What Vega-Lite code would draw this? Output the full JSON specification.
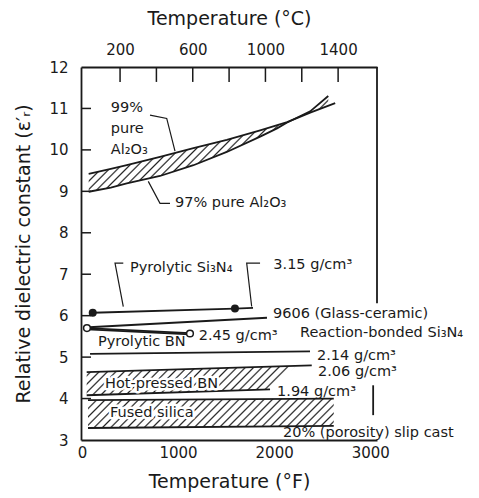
{
  "$schema": "https://vega.github.io/schema/vega-lite/v6.json",
  "width": 296,
  "height": 373,
  "autosize": {"type": "none"},
  "padding": {"left": 81, "top": 67, "right": 102, "bottom": 58},
  "background": "white",
  "config": {
    "view": {"stroke": null},
    "axis": {
      "domainColor": "#1a1a1a", "domainWidth": 1.8,
      "labelFont": "DejaVu Sans", "labelFontSize": 15, "labelColor": "#1a1a1a",
      "titleFont": "DejaVu Sans", "titleFontSize": 19, "titleFontWeight": "normal", "titleColor": "#1a1a1a",
      "grid": false, "labelFlush": false, "labelOverlap": false
    },
    "text": {"font": "DejaVu Sans", "fontSize": 14.5, "color": "#1a1a1a"}
  },
  "datasets": {
    "series": [
      {"s": "a99", "f": 70, "e": 9.42}, {"s": "a99", "f": 300, "e": 9.54}, {"s": "a99", "f": 466, "e": 9.63},
      {"s": "a99", "f": 812, "e": 9.83}, {"s": "a99", "f": 1160, "e": 10.04}, {"s": "a99", "f": 1507, "e": 10.24},
      {"s": "a99", "f": 1854, "e": 10.47}, {"s": "a99", "f": 2135, "e": 10.67}, {"s": "a99", "f": 2375, "e": 10.9},
      {"s": "a99", "f": 2635, "e": 11.13},
      {"s": "a97", "f": 70, "e": 8.99}, {"s": "a97", "f": 300, "e": 9.09}, {"s": "a97", "f": 466, "e": 9.19},
      {"s": "a97", "f": 812, "e": 9.37}, {"s": "a97", "f": 1160, "e": 9.63}, {"s": "a97", "f": 1507, "e": 9.95},
      {"s": "a97", "f": 1854, "e": 10.32}, {"s": "a97", "f": 2030, "e": 10.52}, {"s": "a97", "f": 2135, "e": 10.66},
      {"s": "a97", "f": 2375, "e": 10.93}, {"s": "a97", "f": 2563, "e": 11.3},
      {"s": "si3n4", "f": 112, "e": 6.07}, {"s": "si3n4", "f": 1592, "e": 6.17}, {"s": "si3n4", "f": 1780, "e": 6.19},
      {"s": "g9606", "f": 73, "e": 5.72}, {"s": "g9606", "f": 1925, "e": 5.95},
      {"s": "bnA", "f": 52, "e": 5.7}, {"s": "bnA", "f": 1124, "e": 5.58},
      {"s": "bnB", "f": 52, "e": 5.67}, {"s": "bnB", "f": 1124, "e": 5.55},
      {"s": "rb214", "f": 84, "e": 5.08}, {"s": "rb214", "f": 2373, "e": 5.14},
      {"s": "hp206", "f": 49, "e": 4.64}, {"s": "hp206", "f": 2391, "e": 4.8},
      {"s": "hp194", "f": 49, "e": 4.08}, {"s": "hp194", "f": 1957, "e": 4.22},
      {"s": "fsTop", "f": 63, "e": 3.96}, {"s": "fsTop", "f": 2620, "e": 4.0},
      {"s": "fsBot", "f": 63, "e": 3.29}, {"s": "fsBot", "f": 2620, "e": 3.34}
    ],
    "alBand": [
      {"f": 70, "e": 9.42, "e2": 8.99}, {"f": 300, "e": 9.54, "e2": 9.09}, {"f": 466, "e": 9.63, "e2": 9.19},
      {"f": 812, "e": 9.83, "e2": 9.37}, {"f": 1160, "e": 10.04, "e2": 9.63}, {"f": 1507, "e": 10.24, "e2": 9.95},
      {"f": 1854, "e": 10.47, "e2": 10.32}, {"f": 2030, "e": 10.58, "e2": 10.52}, {"f": 2135, "e": 10.67, "e2": 10.66},
      {"f": 2375, "e": 10.9, "e2": 10.93}, {"f": 2563, "e": 11.07, "e2": 11.3}
    ],
    "hpBand": [
      {"f": 49, "e": 4.64, "e2": 4.08}, {"f": 1957, "e": 4.77, "e2": 4.22}, {"f": 2220, "e": 4.79, "e2": 4.78}
    ],
    "fsBand": [
      {"f": 63, "e": 3.96, "e2": 3.29}, {"f": 2620, "e": 4.0, "e2": 3.34}
    ],
    "filledDots": [{"f": 112, "e": 6.07}, {"f": 1592, "e": 6.17}],
    "openDots": [{"f": 52, "e": 5.7}, {"f": 1124, "e": 5.57}],
    "leaders": [
      {"g": "L99", "i": 0, "f": 708, "e": 10.84}, {"g": "L99", "i": 1, "f": 882, "e": 10.76}, {"g": "L99", "i": 2, "f": 968, "e": 9.97},
      {"g": "L97", "i": 0, "f": 916, "e": 8.71}, {"g": "L97", "i": 1, "f": 812, "e": 8.71}, {"g": "L97", "i": 2, "f": 690, "e": 9.24},
      {"g": "Lsi", "i": 0, "f": 430, "e": 7.27}, {"g": "Lsi", "i": 1, "f": 344, "e": 7.27}, {"g": "Lsi", "i": 2, "f": 430, "e": 6.22},
      {"g": "L315", "i": 0, "f": 1853, "e": 7.27}, {"g": "L315", "i": 1, "f": 1714, "e": 7.27}, {"g": "L315", "i": 2, "f": 1766, "e": 6.22}
    ],
    "frameRight": [{"f": 3070, "e": 12, "e2": 6.3}, {"f": 3030, "e": 4.32, "e2": 3.6}],
    "yTicks": [
      {"e": 4, "f": -10, "f2": 94}, {"e": 5, "f": -10, "f2": 94}, {"e": 6, "f": -10, "f2": 94}, {"e": 7, "f": -10, "f2": 94},
      {"e": 8, "f": -10, "f2": 94}, {"e": 9, "f": -10, "f2": 94}, {"e": 10, "f": -10, "f2": 94}, {"e": 11, "f": -10, "f2": 94}
    ],
    "fTicks": [{"f": 500}, {"f": 1000}, {"f": 1500}, {"f": 2000}, {"f": 2500}],
    "cTicks": [{"c": 200}, {"c": 400}, {"c": 600}, {"c": 800}, {"c": 1000}, {"c": 1200}, {"c": 1400}],
    "labels": [
      {"t": "99%", "f": 300, "e": 11.0}, {"t": "pure", "f": 300, "e": 10.5}, {"t": "Al₂O₃", "f": 300, "e": 10.0},
      {"t": "97% pure Al₂O₃", "f": 968, "e": 8.71},
      {"t": "Pyrolytic Si₃N₄", "f": 500, "e": 7.14},
      {"t": "3.15 g/cm³", "f": 1991, "e": 7.22},
      {"t": "9606 (Glass-ceramic)", "f": 1988, "e": 6.03},
      {"t": "2.45 g/cm³", "f": 1215, "e": 5.52},
      {"t": "Reaction-bonded Si₃N₄", "f": 2269, "e": 5.57},
      {"t": "Pyrolytic BN", "f": 167, "e": 5.36},
      {"t": "2.14 g/cm³", "f": 2446, "e": 5.03},
      {"t": "2.06 g/cm³", "f": 2456, "e": 4.64},
      {"t": "Hot-pressed BN", "f": 240, "e": 4.34},
      {"t": "1.94 g/cm³", "f": 2030, "e": 4.17},
      {"t": "Fused silica", "f": 292, "e": 3.64},
      {"t": "20% (porosity) slip cast", "f": 2092, "e": 3.18}
    ]
  },
  "layer": [
    {
      "encoding": {
        "x": {
          "field": "f", "type": "quantitative",
          "scale": {"domain": [-10, 3070], "nice": false, "zero": false},
          "axis": {
            "orient": "bottom", "values": [0, 1000, 2000, 3000], "format": "d",
            "ticks": false, "labelPadding": 5,
            "title": "Temperature (°F)", "titlePadding": 12
          }
        },
        "y": {
          "field": "e", "type": "quantitative",
          "scale": {"domain": [3, 12], "nice": false, "zero": false},
          "axis": {
            "orient": "left", "values": [3, 4, 5, 6, 7, 8, 9, 10, 11, 12], "format": "d",
            "ticks": false, "labelPadding": 13,
            "title": "Relative dielectric constant (ε′ᵣ)", "titlePadding": 15
          }
        }
      },
      "layer": [
        {
          "data": {"name": "alBand"},
          "mark": {"type": "area", "color": {
            "gradient": "linear", "x1": 0, "y1": 0, "x2": 1.202, "y2": 0.48,
            "stops": [
              {"offset": 0, "color": "#fff"}, {"offset": 0.005, "color": "#222"}, {"offset": 0.01, "color": "#fff"},
              {"offset": 0.025, "color": "#fff"}, {"offset": 0.03, "color": "#222"}, {"offset": 0.035, "color": "#fff"},
              {"offset": 0.05, "color": "#fff"}, {"offset": 0.055, "color": "#222"}, {"offset": 0.06, "color": "#fff"},
              {"offset": 0.075, "color": "#fff"}, {"offset": 0.08, "color": "#222"}, {"offset": 0.085, "color": "#fff"},
              {"offset": 0.1, "color": "#fff"}, {"offset": 0.105, "color": "#222"}, {"offset": 0.11, "color": "#fff"},
              {"offset": 0.125, "color": "#fff"}, {"offset": 0.13, "color": "#222"}, {"offset": 0.135, "color": "#fff"},
              {"offset": 0.15, "color": "#fff"}, {"offset": 0.155, "color": "#222"}, {"offset": 0.16, "color": "#fff"},
              {"offset": 0.175, "color": "#fff"}, {"offset": 0.18, "color": "#222"}, {"offset": 0.185, "color": "#fff"},
              {"offset": 0.2, "color": "#fff"}, {"offset": 0.205, "color": "#222"}, {"offset": 0.21, "color": "#fff"},
              {"offset": 0.225, "color": "#fff"}, {"offset": 0.23, "color": "#222"}, {"offset": 0.235, "color": "#fff"},
              {"offset": 0.25, "color": "#fff"}, {"offset": 0.255, "color": "#222"}, {"offset": 0.26, "color": "#fff"},
              {"offset": 0.275, "color": "#fff"}, {"offset": 0.28, "color": "#222"}, {"offset": 0.285, "color": "#fff"},
              {"offset": 0.3, "color": "#fff"}, {"offset": 0.305, "color": "#222"}, {"offset": 0.31, "color": "#fff"},
              {"offset": 0.325, "color": "#fff"}, {"offset": 0.33, "color": "#222"}, {"offset": 0.335, "color": "#fff"},
              {"offset": 0.35, "color": "#fff"}, {"offset": 0.355, "color": "#222"}, {"offset": 0.36, "color": "#fff"},
              {"offset": 0.375, "color": "#fff"}, {"offset": 0.38, "color": "#222"}, {"offset": 0.385, "color": "#fff"},
              {"offset": 0.4, "color": "#fff"}, {"offset": 0.405, "color": "#222"}, {"offset": 0.41, "color": "#fff"},
              {"offset": 0.425, "color": "#fff"}, {"offset": 0.43, "color": "#222"}, {"offset": 0.435, "color": "#fff"},
              {"offset": 0.45, "color": "#fff"}, {"offset": 0.455, "color": "#222"}, {"offset": 0.46, "color": "#fff"},
              {"offset": 0.475, "color": "#fff"}, {"offset": 0.48, "color": "#222"}, {"offset": 0.485, "color": "#fff"},
              {"offset": 0.5, "color": "#fff"}, {"offset": 0.505, "color": "#222"}, {"offset": 0.51, "color": "#fff"},
              {"offset": 0.525, "color": "#fff"}, {"offset": 0.53, "color": "#222"}, {"offset": 0.535, "color": "#fff"},
              {"offset": 0.55, "color": "#fff"}, {"offset": 0.555, "color": "#222"}, {"offset": 0.56, "color": "#fff"},
              {"offset": 0.575, "color": "#fff"}, {"offset": 0.58, "color": "#222"}, {"offset": 0.585, "color": "#fff"},
              {"offset": 0.6, "color": "#fff"}, {"offset": 0.605, "color": "#222"}, {"offset": 0.61, "color": "#fff"},
              {"offset": 0.625, "color": "#fff"}, {"offset": 0.63, "color": "#222"}, {"offset": 0.635, "color": "#fff"},
              {"offset": 0.65, "color": "#fff"}, {"offset": 0.655, "color": "#222"}, {"offset": 0.66, "color": "#fff"},
              {"offset": 0.675, "color": "#fff"}, {"offset": 0.68, "color": "#222"}, {"offset": 0.685, "color": "#fff"},
              {"offset": 0.7, "color": "#fff"}, {"offset": 0.705, "color": "#222"}, {"offset": 0.71, "color": "#fff"},
              {"offset": 0.725, "color": "#fff"}, {"offset": 0.73, "color": "#222"}, {"offset": 0.735, "color": "#fff"},
              {"offset": 0.75, "color": "#fff"}, {"offset": 0.755, "color": "#222"}, {"offset": 0.76, "color": "#fff"},
              {"offset": 0.775, "color": "#fff"}, {"offset": 0.78, "color": "#222"}, {"offset": 0.785, "color": "#fff"},
              {"offset": 0.8, "color": "#fff"}, {"offset": 0.805, "color": "#222"}, {"offset": 0.81, "color": "#fff"},
              {"offset": 0.825, "color": "#fff"}, {"offset": 0.83, "color": "#222"}, {"offset": 0.835, "color": "#fff"},
              {"offset": 0.85, "color": "#fff"}, {"offset": 0.855, "color": "#222"}, {"offset": 0.86, "color": "#fff"},
              {"offset": 0.875, "color": "#fff"}, {"offset": 0.88, "color": "#222"}, {"offset": 0.885, "color": "#fff"},
              {"offset": 0.9, "color": "#fff"}, {"offset": 0.905, "color": "#222"}, {"offset": 0.91, "color": "#fff"},
              {"offset": 0.925, "color": "#fff"}, {"offset": 0.93, "color": "#222"}, {"offset": 0.935, "color": "#fff"},
              {"offset": 0.95, "color": "#fff"}, {"offset": 0.955, "color": "#222"}, {"offset": 0.96, "color": "#fff"},
              {"offset": 0.975, "color": "#fff"}, {"offset": 0.98, "color": "#222"}, {"offset": 0.985, "color": "#fff"},
              {"offset": 1, "color": "#fff"}
            ]
          }},
          "encoding": {"y2": {"field": "e2"}}
        },
        {
          "data": {"name": "hpBand"},
          "mark": {"type": "area", "color": {
            "gradient": "linear", "x1": 0, "y1": 0, "x2": 1.569, "y2": 0.221,
            "stops": [
              {"offset": 0, "color": "#fff"}, {"offset": 0.005, "color": "#222"}, {"offset": 0.01, "color": "#fff"},
              {"offset": 0.025, "color": "#fff"}, {"offset": 0.03, "color": "#222"}, {"offset": 0.035, "color": "#fff"},
              {"offset": 0.05, "color": "#fff"}, {"offset": 0.055, "color": "#222"}, {"offset": 0.06, "color": "#fff"},
              {"offset": 0.075, "color": "#fff"}, {"offset": 0.08, "color": "#222"}, {"offset": 0.085, "color": "#fff"},
              {"offset": 0.1, "color": "#fff"}, {"offset": 0.105, "color": "#222"}, {"offset": 0.11, "color": "#fff"},
              {"offset": 0.125, "color": "#fff"}, {"offset": 0.13, "color": "#222"}, {"offset": 0.135, "color": "#fff"},
              {"offset": 0.15, "color": "#fff"}, {"offset": 0.155, "color": "#222"}, {"offset": 0.16, "color": "#fff"},
              {"offset": 0.175, "color": "#fff"}, {"offset": 0.18, "color": "#222"}, {"offset": 0.185, "color": "#fff"},
              {"offset": 0.2, "color": "#fff"}, {"offset": 0.205, "color": "#222"}, {"offset": 0.21, "color": "#fff"},
              {"offset": 0.225, "color": "#fff"}, {"offset": 0.23, "color": "#222"}, {"offset": 0.235, "color": "#fff"},
              {"offset": 0.25, "color": "#fff"}, {"offset": 0.255, "color": "#222"}, {"offset": 0.26, "color": "#fff"},
              {"offset": 0.275, "color": "#fff"}, {"offset": 0.28, "color": "#222"}, {"offset": 0.285, "color": "#fff"},
              {"offset": 0.3, "color": "#fff"}, {"offset": 0.305, "color": "#222"}, {"offset": 0.31, "color": "#fff"},
              {"offset": 0.325, "color": "#fff"}, {"offset": 0.33, "color": "#222"}, {"offset": 0.335, "color": "#fff"},
              {"offset": 0.35, "color": "#fff"}, {"offset": 0.355, "color": "#222"}, {"offset": 0.36, "color": "#fff"},
              {"offset": 0.375, "color": "#fff"}, {"offset": 0.38, "color": "#222"}, {"offset": 0.385, "color": "#fff"},
              {"offset": 0.4, "color": "#fff"}, {"offset": 0.405, "color": "#222"}, {"offset": 0.41, "color": "#fff"},
              {"offset": 0.425, "color": "#fff"}, {"offset": 0.43, "color": "#222"}, {"offset": 0.435, "color": "#fff"},
              {"offset": 0.45, "color": "#fff"}, {"offset": 0.455, "color": "#222"}, {"offset": 0.46, "color": "#fff"},
              {"offset": 0.475, "color": "#fff"}, {"offset": 0.48, "color": "#222"}, {"offset": 0.485, "color": "#fff"},
              {"offset": 0.5, "color": "#fff"}, {"offset": 0.505, "color": "#222"}, {"offset": 0.51, "color": "#fff"},
              {"offset": 0.525, "color": "#fff"}, {"offset": 0.53, "color": "#222"}, {"offset": 0.535, "color": "#fff"},
              {"offset": 0.55, "color": "#fff"}, {"offset": 0.555, "color": "#222"}, {"offset": 0.56, "color": "#fff"},
              {"offset": 0.575, "color": "#fff"}, {"offset": 0.58, "color": "#222"}, {"offset": 0.585, "color": "#fff"},
              {"offset": 0.6, "color": "#fff"}, {"offset": 0.605, "color": "#222"}, {"offset": 0.61, "color": "#fff"},
              {"offset": 0.625, "color": "#fff"}, {"offset": 0.63, "color": "#222"}, {"offset": 0.635, "color": "#fff"},
              {"offset": 0.65, "color": "#fff"}, {"offset": 0.655, "color": "#222"}, {"offset": 0.66, "color": "#fff"},
              {"offset": 0.675, "color": "#fff"}, {"offset": 0.68, "color": "#222"}, {"offset": 0.685, "color": "#fff"},
              {"offset": 0.7, "color": "#fff"}, {"offset": 0.705, "color": "#222"}, {"offset": 0.71, "color": "#fff"},
              {"offset": 1, "color": "#fff"}
            ]
          }},
          "encoding": {"y2": {"field": "e2"}}
        },
        {
          "data": {"name": "fsBand"},
          "mark": {"type": "area", "color": {
            "gradient": "linear", "x1": 0, "y1": 0, "x2": 1.339, "y2": 0.16,
            "stops": [
              {"offset": 0, "color": "#fff"}, {"offset": 0.005, "color": "#222"}, {"offset": 0.01, "color": "#fff"},
              {"offset": 0.025, "color": "#fff"}, {"offset": 0.03, "color": "#222"}, {"offset": 0.035, "color": "#fff"},
              {"offset": 0.05, "color": "#fff"}, {"offset": 0.055, "color": "#222"}, {"offset": 0.06, "color": "#fff"},
              {"offset": 0.075, "color": "#fff"}, {"offset": 0.08, "color": "#222"}, {"offset": 0.085, "color": "#fff"},
              {"offset": 0.1, "color": "#fff"}, {"offset": 0.105, "color": "#222"}, {"offset": 0.11, "color": "#fff"},
              {"offset": 0.125, "color": "#fff"}, {"offset": 0.13, "color": "#222"}, {"offset": 0.135, "color": "#fff"},
              {"offset": 0.15, "color": "#fff"}, {"offset": 0.155, "color": "#222"}, {"offset": 0.16, "color": "#fff"},
              {"offset": 0.175, "color": "#fff"}, {"offset": 0.18, "color": "#222"}, {"offset": 0.185, "color": "#fff"},
              {"offset": 0.2, "color": "#fff"}, {"offset": 0.205, "color": "#222"}, {"offset": 0.21, "color": "#fff"},
              {"offset": 0.225, "color": "#fff"}, {"offset": 0.23, "color": "#222"}, {"offset": 0.235, "color": "#fff"},
              {"offset": 0.25, "color": "#fff"}, {"offset": 0.255, "color": "#222"}, {"offset": 0.26, "color": "#fff"},
              {"offset": 0.275, "color": "#fff"}, {"offset": 0.28, "color": "#222"}, {"offset": 0.285, "color": "#fff"},
              {"offset": 0.3, "color": "#fff"}, {"offset": 0.305, "color": "#222"}, {"offset": 0.31, "color": "#fff"},
              {"offset": 0.325, "color": "#fff"}, {"offset": 0.33, "color": "#222"}, {"offset": 0.335, "color": "#fff"},
              {"offset": 0.35, "color": "#fff"}, {"offset": 0.355, "color": "#222"}, {"offset": 0.36, "color": "#fff"},
              {"offset": 0.375, "color": "#fff"}, {"offset": 0.38, "color": "#222"}, {"offset": 0.385, "color": "#fff"},
              {"offset": 0.4, "color": "#fff"}, {"offset": 0.405, "color": "#222"}, {"offset": 0.41, "color": "#fff"},
              {"offset": 0.425, "color": "#fff"}, {"offset": 0.43, "color": "#222"}, {"offset": 0.435, "color": "#fff"},
              {"offset": 0.45, "color": "#fff"}, {"offset": 0.455, "color": "#222"}, {"offset": 0.46, "color": "#fff"},
              {"offset": 0.475, "color": "#fff"}, {"offset": 0.48, "color": "#222"}, {"offset": 0.485, "color": "#fff"},
              {"offset": 0.5, "color": "#fff"}, {"offset": 0.505, "color": "#222"}, {"offset": 0.51, "color": "#fff"},
              {"offset": 0.525, "color": "#fff"}, {"offset": 0.53, "color": "#222"}, {"offset": 0.535, "color": "#fff"},
              {"offset": 0.55, "color": "#fff"}, {"offset": 0.555, "color": "#222"}, {"offset": 0.56, "color": "#fff"},
              {"offset": 0.575, "color": "#fff"}, {"offset": 0.58, "color": "#222"}, {"offset": 0.585, "color": "#fff"},
              {"offset": 0.6, "color": "#fff"}, {"offset": 0.605, "color": "#222"}, {"offset": 0.61, "color": "#fff"},
              {"offset": 0.625, "color": "#fff"}, {"offset": 0.63, "color": "#222"}, {"offset": 0.635, "color": "#fff"},
              {"offset": 0.65, "color": "#fff"}, {"offset": 0.655, "color": "#222"}, {"offset": 0.66, "color": "#fff"},
              {"offset": 0.675, "color": "#fff"}, {"offset": 0.68, "color": "#222"}, {"offset": 0.685, "color": "#fff"},
              {"offset": 0.7, "color": "#fff"}, {"offset": 0.705, "color": "#222"}, {"offset": 0.71, "color": "#fff"},
              {"offset": 0.725, "color": "#fff"}, {"offset": 0.73, "color": "#222"}, {"offset": 0.735, "color": "#fff"},
              {"offset": 0.75, "color": "#fff"}, {"offset": 0.755, "color": "#222"}, {"offset": 0.76, "color": "#fff"},
              {"offset": 0.775, "color": "#fff"}, {"offset": 0.78, "color": "#222"}, {"offset": 0.785, "color": "#fff"},
              {"offset": 0.8, "color": "#fff"}, {"offset": 0.805, "color": "#222"}, {"offset": 0.81, "color": "#fff"},
              {"offset": 0.825, "color": "#fff"}, {"offset": 0.83, "color": "#222"}, {"offset": 0.835, "color": "#fff"},
              {"offset": 1, "color": "#fff"}
            ]
          }},
          "encoding": {"y2": {"field": "e2"}}
        },
        {
          "data": {"name": "yTicks"},
          "mark": {"type": "rule", "color": "#1a1a1a", "strokeWidth": 1.5},
          "encoding": {"x2": {"field": "f2"}}
        },
        {
          "data": {"name": "fTicks"},
          "mark": {"type": "rule", "color": "#1a1a1a", "strokeWidth": 1.5},
          "encoding": {"y": {"datum": 3}, "y2": {"datum": 3.22}}
        },
        {
          "data": {"name": "series"},
          "mark": {"type": "line", "color": "#1a1a1a", "strokeWidth": 1.8},
          "encoding": {"detail": {"field": "s"}}
        },
        {
          "data": {"name": "leaders"},
          "mark": {"type": "line", "color": "#1a1a1a", "strokeWidth": 1.2},
          "encoding": {"detail": {"field": "g"}, "order": {"field": "i"}}
        },
        {
          "data": {"name": "frameRight"},
          "mark": {"type": "rule", "color": "#1a1a1a", "strokeWidth": 1.8},
          "encoding": {"y2": {"field": "e2"}}
        },
        {
          "data": {"name": "filledDots"},
          "mark": {"type": "point", "filled": true, "size": 64, "color": "#1a1a1a", "opacity": 1}
        },
        {
          "data": {"name": "openDots"},
          "mark": {"type": "point", "filled": false, "size": 45, "fill": "white", "stroke": "#1a1a1a", "strokeWidth": 1.5, "opacity": 1}
        },
        {
          "data": {"name": "labels"},
          "transform": [{"filter": "datum.t == 'Hot-pressed BN' || datum.t == 'Fused silica'"}],
          "mark": {"type": "text", "align": "left", "baseline": "middle", "stroke": "white", "strokeWidth": 5, "strokeJoin": "round"},
          "encoding": {"text": {"field": "t"}}
        },
        {
          "data": {"name": "labels"},
          "mark": {"type": "text", "align": "left", "baseline": "middle"},
          "encoding": {"text": {"field": "t"}}
        }
      ]
    },
    {
      "data": {"name": "cTicks"},
      "mark": {"type": "rule", "color": "#1a1a1a", "strokeWidth": 1.5},
      "encoding": {
        "x": {
          "field": "c", "type": "quantitative",
          "scale": {"domain": [-15, 1614], "nice": false, "zero": false},
          "axis": {
            "orient": "top", "values": [200, 600, 1000, 1400], "format": "d",
            "ticks": false, "labelPadding": 10,
            "title": "Temperature (°C)", "titlePadding": 14
          }
        },
        "y": {"datum": 12},
        "y2": {"datum": 11.64}
      }
    }
  ],
  "resolve": {"scale": {"x": "independent"}}
}
